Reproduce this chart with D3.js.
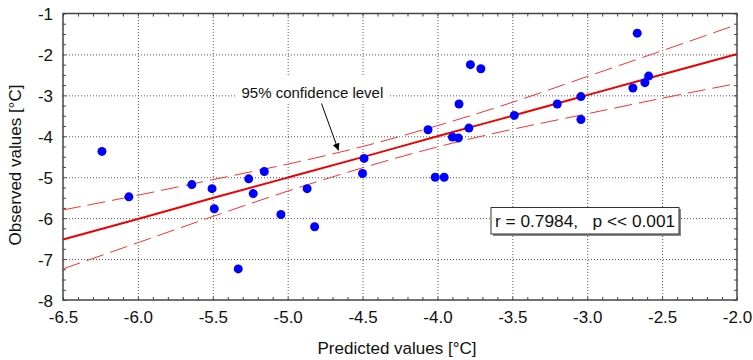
<!DOCTYPE html>
<html>
<head>
<meta charset="utf-8">
<script src="https://cdn.jsdelivr.net/npm/d3@7"></script>
<style>
  body { margin: 0; background: #fff; }
  text { font-family: "Liberation Sans", Arial, sans-serif; fill: #111; }
</style>
</head>
<body>
<figure id="scatter" style="margin:0"></figure>
<script>
// observed vs predicted points
const predicted = [-6.24, -6.06, -5.64, -5.505, -5.49, -5.33, -5.26, -5.23, -5.156, -5.045,
  -4.87, -4.82, -4.49, -4.50, -4.063, -4.015, -3.955, -3.90, -3.86, -3.856,
  -3.79, -3.78, -3.71, -3.487, -3.20, -3.042, -3.042, -2.695, -2.666, -2.615, -2.59];
const observed = [-4.37, -5.48, -5.18, -5.28, -5.77, -7.24, -5.04, -5.40, -4.86, -5.91,
  -5.28, -6.21, -4.54, -4.91, -3.84, -5.00, -5.00, -4.02, -4.04, -3.21,
  -3.80, -2.25, -2.35, -3.49, -3.21, -3.03, -3.59, -2.82, -1.48, -2.69, -2.53];

// regression line and 95% band
const bandX = [-6.5, -6.0, -5.5, -5.0, -4.5, -4.0, -3.5, -3.0, -2.5, -2.0];
const fitY = [-6.52, -6.02, -5.51, -5.01, -4.51, -4.00, -3.50, -2.995, -2.49, -1.99];
const upperY = [-5.80, -5.44, -5.06, -4.68, -4.25, -3.74, -3.17, -2.54, -1.91, -1.27];
const lowerY = [-7.24, -6.60, -5.96, -5.34, -4.77, -4.26, -3.83, -3.45, -3.07, -2.71];

const xTicks = [-6.5, -6.0, -5.5, -5.0, -4.5, -4.0, -3.5, -3.0, -2.5, -2.0];
const yTicks = [-8, -7, -6, -5, -4, -3, -2, -1];
const statsLabel = "r = 0.7984,   p << 0.001";
const noteLabel = "95% confidence level";

const W = 753, H = 360;
const margin = { top: 13.5, right: 16, bottom: 60, left: 63 };
const width = W - margin.left - margin.right;
const height = H - margin.top - margin.bottom;

const svg = d3.select("figure#scatter")
  .append("svg")
  .attr("width", W)
  .attr("height", H);
const g = svg.append("g")
  .attr("transform", "translate(" + margin.left + "," + margin.top + ")");

const x = d3.scaleLinear().domain([-6.5, -2.0]).range([0, width]);
const y = d3.scaleLinear().domain([-8, -1]).range([height, 0]);

// dotted grid
g.append("g")
  .attr("transform", "translate(0," + height + ")")
  .call(d3.axisBottom(x).tickValues(xTicks.slice(1, -1)).tickSize(-height).tickFormat(""))
  .call(a => a.select(".domain").remove())
  .selectAll("line").attr("stroke", "#555").attr("stroke-dasharray", "1,2");
g.append("g")
  .call(d3.axisLeft(y).tickValues(yTicks.slice(1, -1)).tickSize(-width).tickFormat(""))
  .call(a => a.select(".domain").remove())
  .selectAll("line").attr("stroke", "#555").attr("stroke-dasharray", "1,2");

// small inward ticks on all four sides
const xMinor = d3.range(0, 46).map(i => -6.5 + i * 0.1);
const yMinor = d3.range(0, 29).map(i => -8 + i * 0.25);
const tickAxes = [
  [d3.axisBottom(x).tickValues(xMinor), "translate(0," + height + ")"],
  [d3.axisTop(x).tickValues(xMinor), "translate(0,0)"],
  [d3.axisLeft(y).tickValues(yMinor), "translate(0,0)"],
  [d3.axisRight(y).tickValues(yMinor), "translate(" + width + ",0)"]
];
tickAxes.forEach(([ax, tr]) => {
  g.append("g")
    .attr("transform", tr)
    .call(ax.tickSize(-3).tickFormat(""))
    .call(a => a.select(".domain").remove())
    .selectAll("line").attr("stroke", "#444");
});

// tick labels
g.append("g")
  .attr("transform", "translate(0," + height + ")")
  .call(d3.axisBottom(x).tickValues(xTicks).tickSize(0).tickFormat(d => d.toFixed(1)))
  .call(a => a.select(".domain").remove())
  .selectAll("text")
  .attr("y", 23).attr("dy", null)
  .style("font-size", "17px").style("font-family", "'Liberation Sans', Arial, sans-serif")
  .attr("fill", "#111");
g.append("g")
  .call(d3.axisLeft(y).tickValues(yTicks).tickSize(0).tickFormat(d => String(d)))
  .call(a => a.select(".domain").remove())
  .selectAll("text")
  .attr("x", -10).attr("dy", "0.38em")
  .style("font-size", "17px").style("font-family", "'Liberation Sans', Arial, sans-serif")
  .attr("fill", "#111");

// frame
g.append("rect")
  .attr("width", width).attr("height", height)
  .attr("fill", "none").attr("stroke", "#444").attr("stroke-width", 1.5);

// confidence band and fit
const bandLine = (ys) => d3.line()
  .x((d, i) => x(bandX[i]))
  .y((d, i) => y(ys[i]))
  .curve(d3.curveNatural)(ys);

g.append("path").attr("d", bandLine(upperY))
  .attr("fill", "none").attr("stroke", "#ff3030").attr("stroke-width", 1)
  .attr("stroke-dasharray", "18,7");
g.append("path").attr("d", bandLine(lowerY))
  .attr("fill", "none").attr("stroke", "#ff3030").attr("stroke-width", 1)
  .attr("stroke-dasharray", "18,7");
g.append("path").attr("d", bandLine(fitY))
  .attr("fill", "none").attr("stroke", "#ee0000").attr("stroke-width", 2);

// points
g.append("g").selectAll("circle")
  .data(predicted)
  .enter()
  .append("circle")
  .attr("cx", d => x(d))
  .attr("cy", (d, i) => y(observed[i]))
  .attr("r", 4.5)
  .attr("fill", "#0000ff");

// annotation with arrow
svg.append("defs").append("marker")
  .attr("id", "arrow")
  .attr("viewBox", "0 0 10 10")
  .attr("refX", 10).attr("refY", 5)
  .attr("markerWidth", 7).attr("markerHeight", 7)
  .attr("markerUnits", "userSpaceOnUse")
  .attr("orient", "auto")
  .append("path").attr("d", "M0,0L10,5L0,10z").attr("fill", "#000");

g.append("rect")
  .attr("x", 235 - margin.left).attr("y", 77 - margin.top)
  .attr("width", 155).attr("height", 26)
  .attr("fill", "#fff");
g.append("text")
  .attr("x", 241.5 - margin.left).attr("y", 97.5 - margin.top)
  .style("font-size", "15px")
  .text(noteLabel);
g.append("line")
  .attr("x1", 321.5 - margin.left).attr("y1", 103.5 - margin.top)
  .attr("x2", 338.5 - margin.left).attr("y2", 150.5 - margin.top)
  .attr("stroke", "#000").attr("stroke-width", 1)
  .attr("marker-end", "url(#arrow)");

// stats box
g.append("rect")
  .attr("x", 493 - margin.left).attr("y", 209 - margin.top)
  .attr("width", 188).attr("height", 27)
  .attr("fill", "#888");
g.append("rect")
  .attr("x", 491 - margin.left).attr("y", 207.5 - margin.top)
  .attr("width", 188).attr("height", 26.5)
  .attr("fill", "#fff").attr("stroke", "#333").attr("stroke-width", 1);
g.append("text")
  .attr("x", 495 - margin.left).attr("y", 227 - margin.top)
  .attr("xml:space", "preserve")
  .style("white-space", "pre")
  .style("font-size", "17.3px")
  .text(statsLabel);

// axis titles
svg.append("text")
  .attr("x", margin.left + width / 2 - 3).attr("y", 354)
  .attr("text-anchor", "middle")
  .style("font-size", "17px")
  .text("Predicted values [°C]");
svg.append("text")
  .attr("transform", "translate(21,165) rotate(-90)")
  .attr("text-anchor", "middle")
  .style("font-size", "17px")
  .text("Observed values [°C]");
</script>
</body>
</html>
